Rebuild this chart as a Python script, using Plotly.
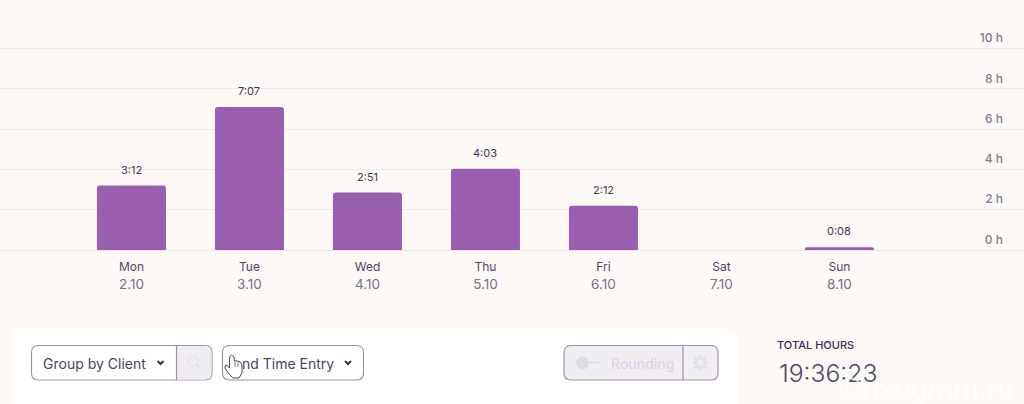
import math

import plotly.graph_objects as go

days = ["Mon", "Tue", "Wed", "Thu", "Fri", "Sat", "Sun"]
dates = ["2.10", "3.10", "4.10", "5.10", "6.10", "7.10", "8.10"]
hours = [3.2, 7.1, 2.85, 4.03, 2.2, 0, 0.133]
bar_labels = ["3:12", "7:07", "2:51", "4:03", "2:12", "", "0:08"]
y_ticks = [0, 2, 4, 6, 8, 10]
y_tick_labels = ["0 h", "2 h", "4 h", "6 h", "8 h", "10 h"]

W, H = 1024, 404
BG = "#fef8f6"
GRID = "#efe7ea"
PURPLE = "#9a5eae"
TEXT = "#4e4066"
BORDER = "#a18fa9"
FONT = "Inter, sans-serif"


def px(x):
    return x / W


def py(y):
    return 1 - y / H


def round_rect(x0, y0, x1, y1, r, fill="white", line=BORDER, width=1.2):
    path = (
        f"M {px(x0 + r)} {py(y0)} L {px(x1 - r)} {py(y0)} Q {px(x1)} {py(y0)} {px(x1)} {py(y0 + r)} "
        f"L {px(x1)} {py(y1 - r)} Q {px(x1)} {py(y1)} {px(x1 - r)} {py(y1)} "
        f"L {px(x0 + r)} {py(y1)} Q {px(x0)} {py(y1)} {px(x0)} {py(y1 - r)} "
        f"L {px(x0)} {py(y0 + r)} Q {px(x0)} {py(y0)} {px(x0 + r)} {py(y0)} Z"
    )
    return dict(type="path", xref="paper", yref="paper", path=path, fillcolor=fill,
                line=dict(color=line, width=width))


def polyline(points, color, width=1.2, fill=None):
    path = "M " + " L ".join(f"{px(x)} {py(y)}" for x, y in points)
    if fill:
        path += " Z"
    return dict(type="path", xref="paper", yref="paper", path=path, fillcolor=fill,
                line=dict(color=color, width=width))


def circle(cx, cy, r, color, fill=None, width=1.5):
    return dict(type="circle", xref="paper", yref="paper", x0=px(cx - r), x1=px(cx + r),
                y0=py(cy + r), y1=py(cy - r), fillcolor=fill,
                line=dict(color=color, width=width))


def label(text, x, y, size=14, color=TEXT, weight=400, family=FONT, anchor="left"):
    return dict(text=text, x=px(x), y=py(y), xref="paper", yref="paper", xanchor=anchor,
                yanchor="middle", showarrow=False,
                font=dict(family=family, size=size, color=color, weight=weight))


def gear(cx, cy, color):
    teeth = [
        polyline([(cx + 5 * math.cos(a), cy + 5 * math.sin(a)), (cx + 8 * math.cos(a), cy + 8 * math.sin(a))],
                 color, 2.5)
        for a in [i * math.pi / 4 for i in range(8)]
    ]
    return teeth + [circle(cx, cy, 4.5, color, width=3.2)]


tick_text = [
    f'<span style="font-size:12px;color:#4f4468">{d}</span><br>'
    f'<span style="font-size:13.5px;color:#7b6f88">{n}</span>'
    for d, n in zip(days, dates)
]

fig = go.Figure(
    go.Bar(
        x=days,
        y=hours,
        width=0.585,
        marker=dict(color=PURPLE, cornerradius=3, line=dict(width=0)),
        hoverinfo="skip",
    )
)

annotations = [
    dict(x=d, y=h, xref="x", yref="y", text=t, showarrow=False, yanchor="bottom", yshift=7,
         font=dict(family=FONT, size=11, color="#3f3650"))
    for d, h, t in zip(days, hours, bar_labels)
    if t
]

annotations += [
    label("Group by Client", 41, 363),
    # the hand cursor sits over the first letters of this label in the screenshot
    label("nd Time Entry", 240, 363),
    label("Rounding", 609, 363, color="#e2cfe8", weight=500),
    label("TOTAL HOURS", 775, 344.5, size=11, color="#3a2c52", weight=500),
    label("19:36:23", 777, 373, size=24.7, color="#4e4a66", weight=300),
    label("©nxogram.ru", 838, 388, size=30, color="rgba(255,255,255,0.9)", family="Liberation Sans"),
]

shapes = [
    # white panel under the chart
    round_rect(12, 331, 737, 440, 9, line="white", width=0),
    # group by client
    round_rect(31.5, 345.5, 212, 380, 7),
    dict(type="path", xref="paper", yref="paper", fillcolor="#eeecf1", line=dict(width=0),
         path=f"M {px(177)} {py(346)} L {px(205)} {py(346)} Q {px(211.5)} {py(346)} {px(211.5)} {py(353)} "
              f"L {px(211.5)} {py(373)} Q {px(211.5)} {py(379.5)} {px(205)} {py(379.5)} L {px(177)} {py(379.5)} Z"),
    polyline([(176.5, 345.5), (176.5, 380)], BORDER),
    circle(193, 361, 5, "#e3e1e7"),
    polyline([(196.5, 364.5), (201, 369)], "#e3e1e7", 2),
    polyline([(157.5, 361), (160.5, 364), (163.5, 361)], "#3d2d5a", 2),
    # time entry
    round_rect(222.5, 345.5, 363.5, 380, 7),
    polyline([(345, 361), (348, 364), (351, 361)], "#3d2d5a", 2),
    # rounding
    round_rect(564, 345.5, 718, 380, 7, fill="#f0eef2"),
    polyline([(683, 345.5), (683, 380)], BORDER),
    circle(582.5, 363, 6.5, "#dedce2", fill="#dedce2", width=0),
    polyline([(589, 362.5), (601, 362.5)], "#d8d6dc"),
    *gear(700.5, 362.5, "#e2e0e5"),
    # hand cursor
    polyline(
        [(229.5, 357), (231.5, 355), (234, 357), (234.5, 361), (237.5, 361), (240, 362), (241.5, 364), (242, 367),
         (242, 373), (239, 378), (233, 378), (229, 374), (225, 368), (225, 366), (227, 365), (229.5, 368)],
        "#4a4a4a", 1, fill="white",
    ),
    polyline([(235, 362), (235, 367)], "#4a4a4a", 0.7),
    polyline([(238, 362), (238, 367)], "#4a4a4a", 0.7),
]

fig.update_layout(
    width=W,
    height=H,
    margin=dict(l=0, r=0, t=0, b=0),
    paper_bgcolor=BG,
    plot_bgcolor=BG,
    showlegend=False,
    font=dict(family=FONT, size=12, color=TEXT),
    annotations=annotations,
    shapes=shapes,
    xaxis=dict(
        domain=[0, 1],
        range=[-1.114, 7.564],
        tickmode="array",
        tickvals=days,
        ticktext=tick_text,
        tickfont=dict(size=14),
        ticklabelstandoff=6,
        ticks="",
        showgrid=False,
        showline=False,
        zeroline=False,
    ),
    yaxis=dict(
        domain=[154 / H, (H - 28.3) / H],
        range=[0, 11],
        side="right",
        tickmode="array",
        tickvals=y_ticks,
        ticktext=y_tick_labels,
        ticklabelposition="inside top",
        ticklabelstandoff=18,
        ticklabelshift=-2,
        tickfont=dict(family=FONT, size=12, color="#85788f", weight=500),
        ticks="",
        gridcolor=GRID,
        gridwidth=1,
        zeroline=True,
        zerolinecolor=GRID,
        zerolinewidth=1,
    ),
)

fig.write_html("out.html", post_script="document.body.style.margin='0';", config={"displayModeBar": False})
